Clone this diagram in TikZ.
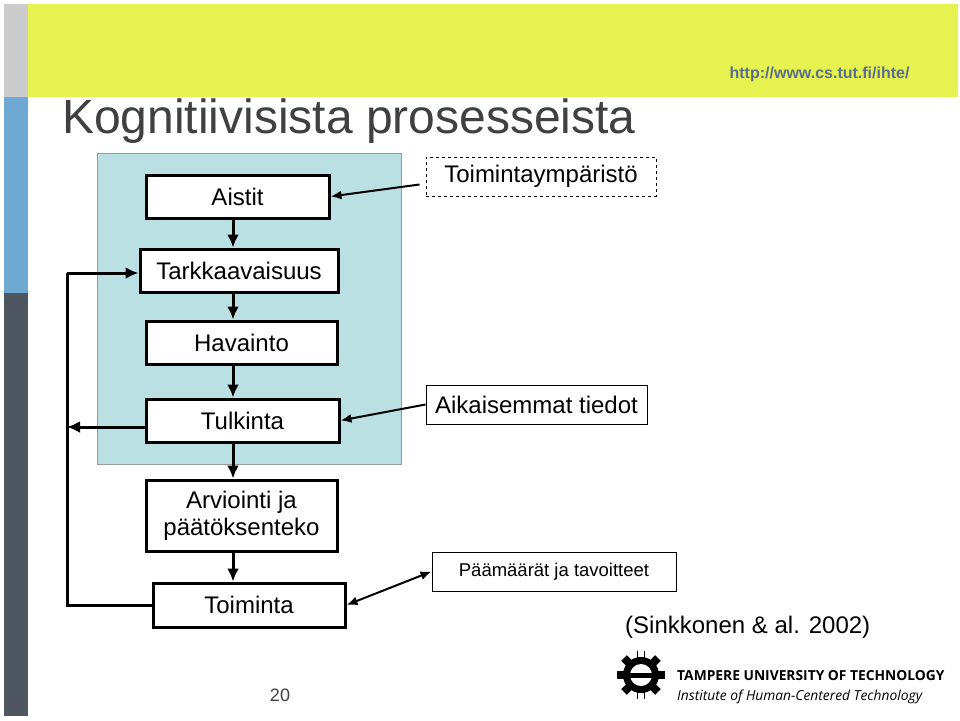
\documentclass[tikz,border=0pt]{standalone}
\usepackage{fontspec}
\setmainfont{Liberation Sans}
\newfontfamily\logofont{Open Sans}
\usetikzlibrary{arrows.meta}
\definecolor{ylw}{HTML}{E5F24F}
\definecolor{sblue}{HTML}{6FA8D2}
\definecolor{sdark}{HTML}{4F5660}
\definecolor{lbg}{HTML}{BAE0E3}
\definecolor{urlc}{HTML}{5A6E8C}
\begin{document}
\begin{tikzpicture}[x=1pt,y=-1pt,
  bx/.style={draw,line width=3pt,fill=white,font=\fontsize{24}{27}\selectfont,align=center,inner sep=0pt},
  tb/.style={draw,line width=1pt,fill=white,font=\fontsize{24}{27}\selectfont,inner sep=0pt},
  ar/.style={line width=3pt,-{Latex[length=13pt,width=12pt]}},
  ar2/.style={line width=2pt,-{Latex[length=11pt,width=9pt]}}]
\useasboundingbox (0,0) rectangle (960,720);
\fill[white] (0,0) rectangle (960,720);
\fill[black!20] (4,4) rectangle (28,97);
\fill[ylw] (28,4) rectangle (958,97);
\fill[sblue] (4,97) rectangle (28,293);
\fill[sdark] (4,293) rectangle (28,716);
\node[anchor=base east,font=\bfseries\fontsize{16}{18}\selectfont,text=urlc] (url) at (913,78) {http://www.cs.tut.fi/ihte/};
\node[anchor=base west,inner sep=0pt,font=\fontsize{48}{54}\selectfont,text=black!75] (title) at (62,133) {Kognitiivisista prosesseista};
\node[draw=black!40,fill=lbg,minimum width=304pt,minimum height=311pt,anchor=north west,inner sep=0pt] (bg) at (97,153) {};
\node[bx,minimum width=183pt,minimum height=43pt] (ais) at (237.5,196.5) {\raisebox{-4pt}{Aistit}};
\node[bx,minimum width=198pt,minimum height=43pt] (tar) at (239,270.5) {Tarkkaavaisuus};
\node[bx,minimum width=191pt,minimum height=43pt] (hav) at (241.5,342.5) {Havainto};
\node[bx,minimum width=193pt,minimum height=43pt] (tul) at (242.5,420.5) {\raisebox{-4pt}{Tulkinta}};
\node[bx,minimum width=191pt,minimum height=71pt] (arv) at (241.5,515.5) {Arviointi ja\\päätöksenteko};
\node[bx,minimum width=192pt,minimum height=44pt] (toi) at (249,605) {Toiminta};
\node[tb,dashed,minimum width=230pt,minimum height=39pt] (ymp) at (541,176.5) {\raisebox{-3pt}{Toimintaympäristö}};
\node[tb,minimum width=221pt,minimum height=39pt] (aik) at (536.5,404.5) {Aikaisemmat tiedot};
\node[tb,minimum width=244pt,minimum height=39pt,font=\fontsize{18.5}{21}\selectfont] (paa) at (554,571.5) {Päämäärät ja tavoitteet};
\foreach \a/\b in {ais/tar,tar/hav,hav/tul,tul/arv,arv/toi}
  \draw[ar] (\a.south-|233,0) -- (\b.north-|233,0);
\coordinate (fb) at (67,605);
\coordinate (ft) at (67,273);
\coordinate (fm) at (67,427);
\draw[line width=3pt] (toi.west) -- (fb) -- (ft);
\draw[ar] (ft) -- (tar.west|-ft);
\draw[ar] (tul.west|-fm) -- (fm);
\draw[ar2] (ymp.west) ++(-6,8) -- (ais.east);
\draw[ar2] (aik.west) -- (tul.east);
\draw[line width=2pt,{Latex[length=11pt,width=9pt]}-{Latex[length=11pt,width=9pt]}] (toi.east) -- (paa.west);
\node[anchor=base west,inner sep=0pt,font=\fontsize{24}{27}\selectfont] (ref) at (625,633) {(Sinkkonen \& al. 2002)};
\node[anchor=base,inner sep=0pt,font=\fontsize{18}{20}\selectfont,text=black!75] (pg) at (280,701) {20};
\begin{scope}[shift={(641,675)}]
\foreach \a in {0,45,...,315}{\fill[rotate=\a] (-4,-24) rectangle (4,-14);}
\fill (0,0) circle (18);
\fill[white] (0,0) circle (11);
\fill (-18,-2.5) rectangle (18,2.5);
\fill[white] (-3,-26) rectangle (3,-18);
\fill[white] (-3,26) rectangle (3,18);
\end{scope}
\node[anchor=base west,inner sep=0pt,font=\logofont\bfseries\fontsize{13.8}{15}\selectfont] (l1) at (677,680) {TAMPERE UNIVERSITY OF TECHNOLOGY};
\node[anchor=base west,inner sep=0pt,font=\logofont\itshape\fontsize{13.8}{15}\selectfont] (l2) at (677,700) {Institute of Human-Centered Technology};
\end{tikzpicture}
\end{document}
